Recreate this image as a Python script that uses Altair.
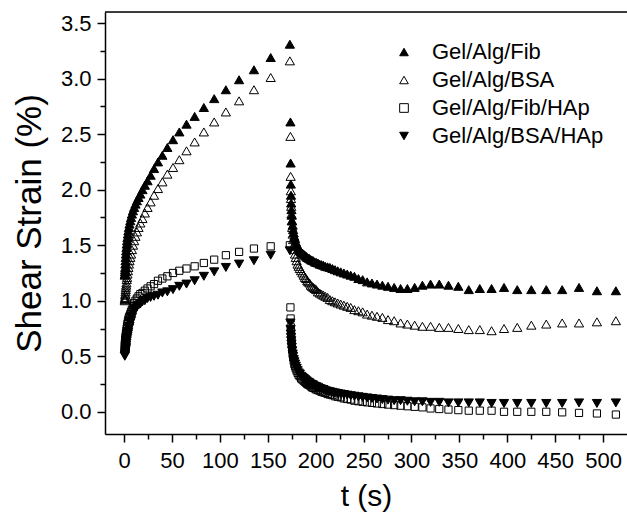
import altair as alt
import pandas as pd

FONT = "Liberation Sans"

SERIES = ["Gel/Alg/Fib", "Gel/Alg/BSA", "Gel/Alg/Fib/HAp", "Gel/Alg/BSA/HAp"]
SHAPES = ["triangle-up", "triangle-up", "square", "triangle-down"]
FILLS = ["black", "transparent", "transparent", "black"]
STROKES = ["black", "black", "black", "black"]

# creep (loading) phase, time in s
CREEP_T = [0.7, 0.8, 0.9, 1.0, 1.14, 1.29, 1.46, 1.65, 1.86, 2.1, 2.4, 2.7, 3.05, 3.45,
           3.9, 4.4, 5.0, 5.6, 6.4, 7.2, 8.1, 9.2, 10.4, 11.8, 13.3, 15.0, 16.9, 19.1,
           21.6, 24.4, 27.6, 31.2, 35.3, 39.9, 45.1, 51.0, 57.6, 65.1, 73.6, 83.2, 94.0,
           106.2, 120.0, 135.5, 153.0, 173.0]

FIB_CREEP = [1.23, 1.24, 1.26, 1.28, 1.30, 1.33, 1.36, 1.39, 1.42, 1.45, 1.48, 1.51, 1.54, 1.57,
             1.60, 1.63, 1.66, 1.69, 1.72, 1.75, 1.78, 1.81, 1.84, 1.87, 1.90, 1.93, 1.96, 2.00,
             2.04, 2.08, 2.13, 2.19, 2.25, 2.31, 2.38, 2.45, 2.52, 2.59, 2.66, 2.74, 2.82,
             2.90, 2.99, 3.08, 3.19, 3.31]
BSA_CREEP = [1.00, 1.01, 1.02, 1.03, 1.05, 1.06, 1.08, 1.10, 1.12, 1.14, 1.16, 1.19, 1.21, 1.24,
             1.27, 1.30, 1.33, 1.36, 1.39, 1.42, 1.46, 1.50, 1.54, 1.58, 1.62, 1.66, 1.70, 1.74,
             1.79, 1.84, 1.89, 1.95, 2.01, 2.07, 2.14, 2.20, 2.27, 2.35, 2.43, 2.52, 2.61,
             2.70, 2.80, 2.90, 3.01, 3.16]
FIB_HAP_CREEP = [0.60, 0.61, 0.62, 0.63, 0.64, 0.65, 0.67, 0.68, 0.70, 0.71, 0.73, 0.75, 0.77, 0.79,
                 0.81, 0.83, 0.85, 0.86, 0.88, 0.90, 0.92, 0.95, 0.98, 1.00, 1.02, 1.04, 1.06, 1.07,
                 1.09, 1.11, 1.13, 1.15, 1.18, 1.20, 1.22, 1.25, 1.27, 1.29, 1.31, 1.34, 1.37,
                 1.41, 1.44, 1.47, 1.49, 1.50]
BSA_HAP_CREEP = [0.50, 0.51, 0.52, 0.53, 0.54, 0.55, 0.56, 0.57, 0.58, 0.60, 0.62, 0.64, 0.66, 0.68,
                 0.70, 0.72, 0.75, 0.77, 0.80, 0.82, 0.85, 0.88, 0.91, 0.93, 0.95, 0.96, 0.97, 0.99,
                 1.00, 1.02, 1.03, 1.04, 1.05, 1.07, 1.08, 1.10, 1.13, 1.15, 1.18, 1.22, 1.26,
                 1.30, 1.33, 1.36, 1.41, 1.45]

# recovery phase: stress removed at T_RELEASE, times since release in s
T_RELEASE = 173.4
RECOVERY_DT = [0.2, 0.4, 0.6, 0.8, 1.0, 1.3, 1.6, 2.0, 2.5, 3.0, 3.6, 4.3, 5.0, 5.8, 6.7, 7.7,
               8.8, 10.0, 11.3, 12.7, 14.0, 15.3, 16.6, 17.8, 18.9, 20.1, 21.4, 22.7, 24.1,
               25.6, 27.2, 28.9, 30.7, 32.6, 34.6, 36.7, 39.0, 41.4, 44.0, 46.7, 49.6, 52.7,
               56.0, 59.5, 63.1, 67.0, 71.2, 75.6, 80.3, 85.3, 90.6, 96.2, 102.1, 108.5, 115.2,
               122.3, 129.9, 138.0, 146.5, 155.6, 165.2, 175.5, 186.4, 197.9, 210.2, 223.2,
               237.0, 251.7, 267.3, 283.9, 301.5, 320.2, 340.0]

FIB_REC = [2.61, 2.24, 2.05, 1.95, 1.88, 1.82, 1.77, 1.72, 1.68, 1.64, 1.61, 1.58, 1.56, 1.53, 1.51, 1.49,
           1.47, 1.45, 1.44, 1.43, 1.42, 1.41, 1.40, 1.39, 1.385, 1.38, 1.37, 1.365, 1.36,
           1.35, 1.345, 1.34, 1.33, 1.325, 1.32, 1.31, 1.305, 1.30, 1.29, 1.28, 1.27, 1.26,
           1.25, 1.24, 1.23, 1.22, 1.20, 1.19, 1.17, 1.16, 1.15, 1.14, 1.13, 1.12, 1.11,
           1.11, 1.12, 1.14, 1.15, 1.15, 1.14, 1.13, 1.10, 1.11, 1.11, 1.12,
           1.10, 1.10, 1.10, 1.10, 1.12, 1.09, 1.09]
BSA_REC = [2.48, 2.12, 1.99, 1.92, 1.85, 1.78, 1.72, 1.66, 1.60, 1.55, 1.50, 1.46, 1.42, 1.39, 1.36, 1.33,
           1.31, 1.29, 1.27, 1.25, 1.23, 1.21, 1.20, 1.18, 1.17, 1.16, 1.14, 1.13, 1.12,
           1.11, 1.10, 1.08, 1.07, 1.06, 1.05, 1.04, 1.03, 1.01, 1.00, 0.99, 0.98, 0.97,
           0.96, 0.95, 0.94, 0.92, 0.91, 0.90, 0.88, 0.87, 0.86, 0.85, 0.83, 0.82, 0.80,
           0.79, 0.78, 0.77, 0.77, 0.76, 0.76, 0.75, 0.74, 0.74, 0.73, 0.75,
           0.76, 0.78, 0.79, 0.80, 0.80, 0.81, 0.82]
FIB_HAP_REC = [0.94, 0.84, 0.76, 0.72, 0.68, 0.64, 0.60, 0.56, 0.52, 0.49, 0.46, 0.43, 0.41, 0.39, 0.37, 0.35,
               0.33, 0.32, 0.30, 0.29, 0.28, 0.27, 0.26, 0.25, 0.245, 0.24, 0.23, 0.22, 0.215,
               0.21, 0.20, 0.195, 0.19, 0.18, 0.175, 0.17, 0.16, 0.155, 0.15, 0.14, 0.135, 0.13,
               0.12, 0.115, 0.11, 0.10, 0.095, 0.09, 0.085, 0.08, 0.075, 0.07, 0.065, 0.06, 0.055,
               0.05, 0.045, 0.04, 0.03, 0.025, 0.02, 0.015, 0.01, 0.01, 0.01, 0.0,
               0.0, 0.0, 0.0, -0.005, -0.01, -0.015, -0.025]
BSA_HAP_REC = [0.80, 0.74, 0.70, 0.67, 0.64, 0.61, 0.58, 0.55, 0.52, 0.50, 0.47, 0.45, 0.43, 0.41, 0.39, 0.37,
               0.35, 0.34, 0.32, 0.31, 0.30, 0.29, 0.28, 0.27, 0.265, 0.26, 0.25, 0.245, 0.24,
               0.23, 0.225, 0.22, 0.21, 0.205, 0.20, 0.19, 0.185, 0.18, 0.175, 0.17, 0.165, 0.16,
               0.155, 0.15, 0.145, 0.14, 0.135, 0.13, 0.125, 0.12, 0.115, 0.11, 0.105, 0.10, 0.10,
               0.095, 0.09, 0.09, 0.085, 0.085, 0.08, 0.08, 0.08, 0.08, 0.075, 0.075,
               0.075, 0.075, 0.075, 0.075, 0.08, 0.075, 0.08]

CREEP = [FIB_CREEP, BSA_CREEP, FIB_HAP_CREEP, BSA_HAP_CREEP]
RECOVERY = [FIB_REC, BSA_REC, FIB_HAP_REC, BSA_HAP_REC]

rows = []
for name, creep, rec in zip(SERIES, CREEP, RECOVERY):
    for t, v in zip(CREEP_T, creep):
        rows.append({"t": t, "strain": v, "series": name})
    for dt, v in zip(RECOVERY_DT, rec):
        rows.append({"t": round(T_RELEASE + dt, 2), "strain": v, "series": name})
df = pd.DataFrame(rows)

W, H = 522, 422

x_axis = alt.Axis(
    values=list(range(0, 501, 25)),
    labelExpr="datum.value % 50 === 0 ? datum.label : ''",
    tickSize={"condition": {"test": "datum.value % 50 === 0", "value": 8}, "value": 5},
    title="t (s)", titleFontSize=30, titleFont=FONT, titleFontWeight="normal",
    titleColor="black", titlePadding=10,
    labelFontSize=22, labelFont=FONT, labelColor="black", labelPadding=8,
    tickColor="black", tickWidth=1.5, domainColor="black", domainWidth=1.5,
    grid=False, labelFlush=False, labelOverlap=False,
)
y_axis = alt.Axis(
    values=[i * 0.25 for i in range(0, 15)],
    labelExpr="round(datum.value * 100) % 50 === 0 ? format(datum.value, '.1f') : ''",
    tickSize={"condition": {"test": "round(datum.value * 100) % 50 === 0", "value": 8}, "value": 5},
    title="Shear Strain (%)", titleFontSize=35, titleFont=FONT, titleFontWeight="normal",
    titleColor="black", titlePadding=13,
    labelFontSize=22, labelFont=FONT, labelColor="black", labelPadding=6,
    tickColor="black", tickWidth=1.5, domainColor="black", domainWidth=1.5,
    grid=False, labelFlush=False, labelOverlap=False,
)

points = alt.Chart(df).mark_point(
    filled=False, strokeWidth=1, opacity=1, size=85
).encode(
    x=alt.X("t:Q", scale=alt.Scale(domain=[-20, 525], nice=False, zero=False), axis=x_axis),
    y=alt.Y("strain:Q", scale=alt.Scale(domain=[-0.2, 3.6], nice=False, zero=False), axis=y_axis),
    shape=alt.Shape("series:N", sort=SERIES,
                    scale=alt.Scale(domain=SERIES, range=SHAPES),
                    legend=alt.Legend(
                        title=None, orient="none", legendX=288, legendY=29, padding=0,
                        rowPadding=6, labelOffset=17, labelFontSize=22, labelFont=FONT,
                        labelColor="black", symbolSize=75, symbolStrokeWidth=1,
                        labelLimit=0)),
    fill=alt.Fill("series:N", sort=SERIES,
                  scale=alt.Scale(domain=SERIES, range=FILLS), legend=None),
    stroke=alt.Stroke("series:N", sort=SERIES,
                      scale=alt.Scale(domain=SERIES, range=STROKES), legend=None),
    size=alt.condition(alt.datum.series == SERIES[2], alt.value(52), alt.value(85)),
)

frame_top = alt.Chart(pd.DataFrame({"k": [0]})).mark_rule(
    stroke="black", strokeWidth=1.5
).encode(x=alt.value(0), x2=alt.value(W + 10), y=alt.value(0))

chart = alt.layer(points, frame_top).properties(
    width=W, height=H,
    padding={"left": 105, "top": 12, "right": 0, "bottom": 87},
    autosize="none",
).configure_view(stroke=None).configure(font=FONT, background="white")

chart.save("out.html", embed_options={"renderer": "svg", "actions": False})
